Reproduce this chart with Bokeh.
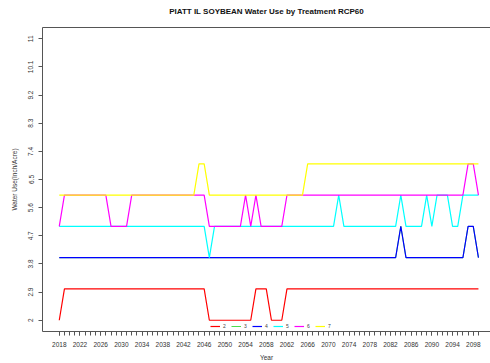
from bokeh.plotting import figure
from bokeh.models import FixedTicker, Legend, LegendItem, LinearAxis
from bokeh.embed import file_html
from bokeh.resources import INLINE

years = list(range(2018, 2100))

# Treatment 2 (red)
t2 = [2, 3, 3, 3, 3, 3, 3, 3, 3, 3,
      3, 3, 3, 3, 3, 3, 3, 3, 3, 3,
      3, 3, 3, 3, 3, 3, 3, 3, 3, 2,
      2, 2, 2, 2, 2, 2, 2, 2, 3, 3,
      3, 2, 2, 2, 3, 3, 3, 3, 3, 3,
      3, 3, 3, 3, 3, 3, 3, 3, 3, 3,
      3, 3, 3, 3, 3, 3, 3, 3, 3, 3,
      3, 3, 3, 3, 3, 3, 3, 3, 3, 3,
      3, 3]
# Treatment 4 (blue)
t4 = [4, 4, 4, 4, 4, 4, 4, 4, 4, 4,
      4, 4, 4, 4, 4, 4, 4, 4, 4, 4,
      4, 4, 4, 4, 4, 4, 4, 4, 4, 4,
      4, 4, 4, 4, 4, 4, 4, 4, 4, 4,
      4, 4, 4, 4, 4, 4, 4, 4, 4, 4,
      4, 4, 4, 4, 4, 4, 4, 4, 4, 4,
      4, 4, 4, 4, 4, 4, 5, 4, 4, 4,
      4, 4, 4, 4, 4, 4, 4, 4, 4, 5,
      5, 4]
# Treatment 3 (green) - hidden beneath treatment 4
t3 = [4, 4, 4, 4, 4, 4, 4, 4, 4, 4,
      4, 4, 4, 4, 4, 4, 4, 4, 4, 4,
      4, 4, 4, 4, 4, 4, 4, 4, 4, 4,
      4, 4, 4, 4, 4, 4, 4, 4, 4, 4,
      4, 4, 4, 4, 4, 4, 4, 4, 4, 4,
      4, 4, 4, 4, 4, 4, 4, 4, 4, 4,
      4, 4, 4, 4, 4, 4, 5, 4, 4, 4,
      4, 4, 4, 4, 4, 4, 4, 4, 4, 5,
      5, 4]
# Treatment 5 (cyan)
t5 = [5, 5, 5, 5, 5, 5, 5, 5, 5, 5,
      5, 5, 5, 5, 5, 5, 5, 5, 5, 5,
      5, 5, 5, 5, 5, 5, 5, 5, 5, 4,
      5, 5, 5, 5, 5, 5, 5, 5, 5, 5,
      5, 5, 5, 5, 5, 5, 5, 5, 5, 5,
      5, 5, 5, 5, 6, 5, 5, 5, 5, 5,
      5, 5, 5, 5, 5, 5, 6, 5, 5, 5,
      5, 6, 5, 6, 6, 6, 5, 5, 6, 6,
      6, 6]
# Treatment 6 (magenta)
t6 = [5, 6, 6, 6, 6, 6, 6, 6, 6, 6,
      5, 5, 5, 5, 6, 6, 6, 6, 6, 6,
      6, 6, 6, 6, 6, 6, 6, 6, 6, 5,
      5, 5, 5, 5, 5, 5, 6, 5, 6, 5,
      5, 5, 5, 5, 6, 6, 6, 6, 6, 6,
      6, 6, 6, 6, 6, 6, 6, 6, 6, 6,
      6, 6, 6, 6, 6, 6, 6, 6, 6, 6,
      6, 6, 6, 6, 6, 6, 6, 6, 6, 7,
      7, 6]
# Treatment 7 (yellow)
t7 = [6, 6, 6, 6, 6, 6, 6, 6, 6, 6,
      6, 6, 6, 6, 6, 6, 6, 6, 6, 6,
      6, 6, 6, 6, 6, 6, 6, 7, 7, 6,
      6, 6, 6, 6, 6, 6, 6, 6, 6, 6,
      6, 6, 6, 6, 6, 6, 6, 6, 7, 7,
      7, 7, 7, 7, 7, 7, 7, 7, 7, 7,
      7, 7, 7, 7, 7, 7, 7, 7, 7, 7,
      7, 7, 7, 7, 7, 7, 7, 7, 7, 7,
      7, 7]

series_names = ["2", "3", "4", "5", "6", "7"]
series_values = [t2, t3, t4, t5, t6, t7]
series_colors = ["#FF0000", "#00CD00", "#0000FF", "#00FFFF", "#FF00FF", "#FFFF00"]
series_widths = [1.2, 0.7, 1.2, 1.2, 1.2, 1.2]

y_ticks = [2, 2.9, 3.8, 4.7, 5.6, 6.5, 7.4, 8.3, 9.2, 10.1, 11]
y_tick_labels = ["2", "2.9", "3.8", "4.7", "5.6", "6.5", "7.4", "8.3", "9.2", "10.1", "11"]
x_label_years = list(range(2018, 2099, 4))

TITLE = "PIATT IL SOYBEAN Water Use by Treatment RCP60"
FONT = "Liberation Sans"

p = figure(width=490, height=363, x_range=(2014.76, 2101.33), y_range=(1.64, 11.36),
           output_backend="svg", toolbar_location=None,
           min_border_left=42, min_border_right=0, min_border_top=27, min_border_bottom=31)

p.xgrid.visible = False
p.ygrid.visible = False
p.outline_line_color = None

renderers = []
for name, vals, col, w in zip(series_names, series_values, series_colors, series_widths):
    r = p.line(years, vals, line_color=col, line_width=w)
    renderers.append((name, r))

legend = Legend(items=[LegendItem(label=n, renderers=[r]) for n, r in renderers],
                orientation="horizontal", location=(168, 2))
legend.label_text_font = FONT
legend.label_text_font_size = "5px"
legend.label_text_color = "#444444"
legend.glyph_width = 10
legend.glyph_height = 6
legend.label_standoff = 3
legend.label_width = 3
legend.spacing = 5
legend.padding = 0
legend.margin = 0
legend.border_line_alpha = 0
legend.background_fill_alpha = 0
legend.label_height = 6
p.add_layout(legend, "center")

AX = "#555555"
# y axis
ya = p.yaxis[0]
ya.ticker = FixedTicker(ticks=y_ticks)
ya.major_label_overrides = {t: l for t, l in zip(y_ticks, y_tick_labels)}
ya.major_label_orientation = "parallel"
ya.major_label_text_font = FONT
ya.major_label_text_font_size = "6.5px"
ya.major_label_text_color = "#333333"
ya.major_tick_out = 4
ya.major_tick_in = 0
ya.minor_tick_line_color = None
ya.axis_line_color = AX
ya.major_tick_line_color = AX
ya.major_label_standoff = 5
ya.axis_label = "Water Use(Inch/Acre)"
ya.axis_label_text_font = FONT
ya.axis_label_text_font_size = "6.5px"
ya.axis_label_text_font_style = "normal"
ya.axis_label_text_color = "#333333"
ya.axis_label_standoff = 8

# x axis
xa = p.xaxis[0]
xa.ticker = FixedTicker(ticks=x_label_years, minor_ticks=years)
xa.major_label_text_font = FONT
xa.major_label_text_font_size = "6.5px"
xa.major_label_text_color = "#333333"
xa.major_tick_out = 4
xa.major_tick_in = 0
xa.minor_tick_out = 4
xa.minor_tick_in = 0
xa.axis_line_color = AX
xa.major_tick_line_color = AX
xa.minor_tick_line_color = AX
xa.major_label_standoff = 6
xa.axis_label = "Year"
xa.axis_label_text_font = FONT
xa.axis_label_text_font_size = "6.5px"
xa.axis_label_text_font_style = "normal"
xa.axis_label_text_color = "#333333"
xa.axis_label_standoff = 4

# top border line (box top) carrying the chart title
top = LinearAxis(ticker=FixedTicker(ticks=[]), major_label_text_font_size="0px",
                 major_label_standoff=0, major_tick_out=0,
                 major_tick_line_color=None, minor_tick_line_color=None,
                 axis_line_color=AX)
top.axis_label = TITLE
top.axis_label_text_font = FONT
top.axis_label_text_font_size = "8px"
top.axis_label_text_font_style = "bold"
top.axis_label_text_color = "#111111"
top.axis_label_standoff = 12
p.add_layout(top, "above")

open("out.html", "w").write(file_html(p, INLINE))
